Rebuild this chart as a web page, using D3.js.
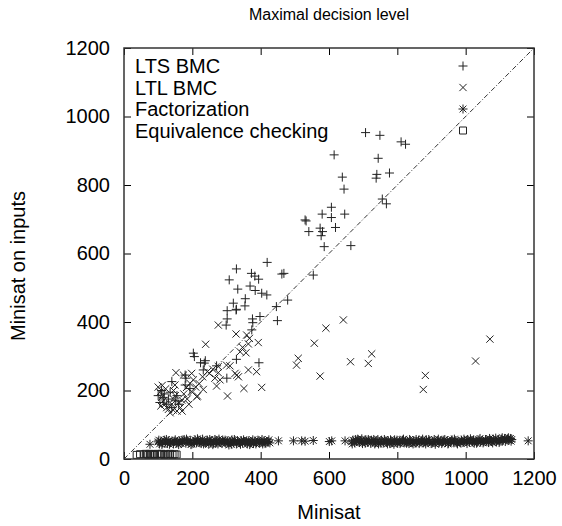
<!doctype html>
<html>
  <head>
    <script src="https://cdnjs.cloudflare.com/ajax/libs/d3/7.8.5/d3.min.js"></script>
    <style>
      body {
        margin: 0;
        background: #fff;
        font-family: "Liberation Sans", Arial, Helvetica, sans-serif;
      }
      .tick text {
        font-size: 20px;
        fill: #000;
      }
      .tick line {
        stroke: #000;
      }
      .mark {
        fill: none;
        stroke: #222;
        stroke-width: 1;
      }
    </style>
  </head>
  <body>
    <svg width="562" height="526"></svg>
    <script>
      // series: [minisat, minisat on inputs]
      var ltsBmc = [
        [707,953],[749,945],[811,926],[824,919],[615,888],[744,878],[639,823],[740,831],[777,835],[738,820],
        [644,788],[756,759],[768,745],[607,735],[580,715],[607,705],[646,715],[530,698],[533,695],[541,664],
        [574,674],[581,664],[577,652],[619,676],[586,620],[664,623],[554,537],[419,574],[329,555],[308,523],
        [333,496],[373,542],[383,534],[394,525],[369,505],[384,492],[403,484],[418,479],[462,540],[468,542],
        [479,464],[355,468],[320,455],[354,447],[329,437],[446,445],[328,435],[302,433],[302,409],[376,409],
        [377,398],[398,416],[449,404],[299,391],[374,377],[203,309],[206,299],[224,281],[238,287],[329,291],
        [395,281],[271,272],[179,245],[181,236],[232,260],[301,236],[140,226],[179,216],[193,206],[235,280],
        [110,200],[118,190],[130,175],[150,170],[105,165],[125,160],[140,150],[160,160],[115,180],[100,185],
        [135,195],[155,185]
      ];
      var ltlBmc = [
        [276,391],[328,365],[359,362],[367,352],[364,336],[393,340],[347,326],[340,313],[357,310],[239,335],
        [310,272],[330,245],[335,240],[364,260],[388,255],[351,206],[403,209],[303,184],[213,182],[232,203],
        [276,270],[276,252],[266,236],[281,231],[271,213],[152,252],[174,245],[198,250],[203,231],[193,221],
        [149,216],[510,294],[505,274],[557,338],[574,242],[591,382],[642,406],[663,284],[715,279],[725,307],
        [882,244],[876,203],[1029,286],[1071,350],[244,255],[300,274],[325,250],[183,209],[215,184],
        [100,210],[105,195],[110,180],[115,170],[120,160],[125,150],[130,145],[140,160],[145,175],[150,185],
        [160,165],[165,150],[170,140],[155,140],[135,135],[112,215],[122,205],[108,155],[145,200],[169,172],
        [144,143],[175,190],[185,175],[190,160],[200,195],[210,210],[220,220],[230,240],[250,250],[260,262]
      ];
      var factorization = [
        [76,43],[100,50],[104,44],[108,52],[113,47],[118,55],[122,49],[127,45],[131,53],[136,48],[141,51],
        [145,44],[150,56],[154,47],[158,50],[163,53],[167,45],[172,49],[176,57],[181,46],[185,52],[190,48],
        [194,54],[199,44],[203,50],[208,56],[212,47],[217,53],[221,49],[226,45],[230,58],[235,51],[239,47],
        [244,55],[248,43],[253,50],[257,53],[262,46],[266,57],[271,49],[275,44],[280,52],[284,48],[289,55],
        [293,50],[298,46],[302,53],[307,41],[311,49],[316,56],[320,47],[325,52],[329,44],[334,50],[338,48],
        [343,54],[347,46],[352,51],[356,49],[361,44],[365,53],[370,47],[374,50],[379,45],[383,52],[388,48],
        [392,55],[397,46],[401,50],[406,44],[410,53],[415,48],[419,51],[424,56],[427,47],[452,53],[496,53],
        [520,53],[530,52],[554,54],[601,51],[608,53],[647,53],[666,50],[670,55],[675,47],[680,52],[684,58],
        [689,48],[694,53],[698,45],[703,51],[708,56],[712,49],[717,53],[722,46],[726,51],[731,57],[736,48],
        [740,52],[745,44],[750,50],[754,55],[759,47],[764,52],[768,49],[773,54],[778,45],[782,51],[787,48],
        [792,56],[796,50],[801,46],[806,53],[810,49],[815,55],[820,47],[824,52],[829,50],[834,45],[838,54],
        [843,48],[848,52],[852,46],[857,51],[862,55],[866,49],[871,53],[876,47],[880,50],[885,56],[890,48],
        [894,52],[899,45],[904,51],[908,57],[913,49],[918,53],[922,47],[927,52],[932,50],[936,55],[941,48],
        [946,53],[950,46],[955,51],[960,56],[964,49],[969,53],[974,47],[978,52],[983,50],[988,55],[992,48],
        [997,53],[1002,51],[1006,57],[1011,49],[1016,54],[1020,50],[1025,46],[1030,53],[1034,51],[1039,56],
        [1044,49],[1048,54],[1053,50],[1058,57],[1062,52],[1067,48],[1072,55],[1076,51],[1081,58],[1086,53],
        [1090,50],[1095,56],[1100,52],[1104,58],[1109,54],[1114,60],[1118,56],[1122,59],[1127,55],[1131,60],
        [1135,57],[1183,53],
        // second pass over the dense band
        [102,55],[111,42],[124,57],[133,43],[147,52],[160,42],[170,55],[183,58],[196,42],[206,48],[215,59],
        [224,52],[233,44],[242,50],[251,57],[260,42],[269,53],[278,58],[287,45],[296,55],[305,48],[314,43],
        [323,57],[332,53],[341,43],[350,56],[359,52],[368,42],[377,56],[386,44],[395,51],[404,57],[413,45],
        [422,51],[668,44],[678,57],[687,52],[696,59],[706,46],[715,57],[724,55],[734,44],[743,57],[752,46],
        [762,57],[771,44],[780,56],[790,43],[799,55],[808,45],[818,58],[827,46],[836,57],[846,44],[855,57],
        [864,45],[874,58],[883,44],[892,57],[902,48],[911,43],[920,58],[930,45],[939,57],[948,44],[958,52],
        [967,58],[976,44],[986,47],[995,58],[1004,45],[1014,59],[1023,55],[1032,46],[1042,60],[1051,47],
        [1060,53],[1070,60],[1079,47],[1088,61],[1098,48],[1107,62],[1116,51],[1125,62],[1133,52]
      ];
      var equivalence = [
        [37,12],[47,14],[59,13],[64,15],[71,12],[76,15],[81,13],[88,14],[91,12],[98,15],
        [105,13],[110,15],[118,12],[122,14],[129,13],[135,15],[142,12],[148,14],[154,13]
      ];
      var seriesNames = ["LTS BMC", "LTL BMC", "Factorization", "Equivalence checking"];
      var tickValues = [0, 200, 400, 600, 800, 1000, 1200];

      var margin = {left: 124, right: 28, top: 48, bottom: 67};
      var width = 562 - margin.left - margin.right,
          height = 526 - margin.top - margin.bottom;

      var svg = d3.select("svg");
      var g = svg.append("g").attr("transform", "translate(" + margin.left + "," + margin.top + ")");

      var x = d3.scaleLinear().domain([0, 1200]).range([0, width]);
      var y = d3.scaleLinear().domain([0, 1200]).range([height, 0]);

      // marker shapes, gnuplot style
      var shapes = {
        plus: "M-4.5,0H4.5M0,-4.5V4.5",
        times: "M-3.6,-3.6L3.6,3.6M-3.6,3.6L3.6,-3.6",
        star: "M-4.5,0H4.5M0,-4.5V4.5M-3.4,-3.4L3.4,3.4M-3.4,3.4L3.4,-3.4",
        square: "M-3.5,-3.5H3.5V3.5H-3.5Z"
      };
      var fmt = d3.format("d");

      // ticks on all four sides, pointing in
      g.append("g").attr("transform", "translate(0," + height + ")")
        .call(d3.axisBottom(x).tickValues(tickValues).tickFormat(fmt).tickSize(-7).tickPadding(12));
      g.append("g")
        .call(d3.axisLeft(y).tickValues(tickValues).tickFormat(fmt).tickSize(-7).tickPadding(14));
      g.append("g")
        .call(d3.axisTop(x).tickValues(tickValues).tickSize(-7).tickFormat(""));
      g.append("g").attr("transform", "translate(" + width + ",0)")
        .call(d3.axisRight(y).tickValues(tickValues).tickSize(-7).tickFormat(""));
      g.selectAll(".domain").remove();

      // y = x reference line
      g.append("line")
        .attr("x1", x(0)).attr("y1", y(0))
        .attr("x2", x(1200)).attr("y2", y(1200))
        .attr("stroke", "#000")
        .attr("stroke-width", 0.8)
        .attr("stroke-dasharray", "5,2,1,2");

      function plot(data, shape) {
        g.append("g").selectAll("path")
          .data(data)
          .enter()
          .append("path")
            .attr("class", "mark")
            .attr("d", shapes[shape])
            .attr("transform", d => "translate(" + x(d[0]) + "," + y(d[1]) + ")");
      }
      plot(equivalence, "square");
      plot(factorization, "star");
      plot(ltlBmc, "times");
      plot(ltsBmc, "plus");

      // frame
      g.append("rect")
        .attr("width", width).attr("height", height)
        .attr("fill", "none").attr("stroke", "#333").attr("stroke-width", 1.5);

      // legend
      var legendShapes = ["plus", "times", "star", "square"];
      var legend = g.selectAll(".legend")
        .data(seriesNames)
        .enter()
        .append("g")
          .attr("class", "legend")
          .attr("transform", (d, i) => "translate(0," + (25 + i * 21.5) + ")");
      legend.append("text")
        .attr("x", 11)
        .attr("y", 0)
        .style("font-size", "20px")
        .text(d => d);
      legend.append("path")
        .attr("class", "mark")
        .attr("d", (d, i) => shapes[legendShapes[i]])
        .attr("transform", "translate(339,-7)");

      // titles
      svg.append("text")
        .attr("x", margin.left + width / 2)
        .attr("y", 20)
        .attr("text-anchor", "middle")
        .style("font-size", "16px")
        .text("Maximal decision level");
      svg.append("text")
        .attr("x", margin.left + width / 2)
        .attr("y", 519)
        .attr("text-anchor", "middle")
        .style("font-size", "20px")
        .text("Minisat");
      svg.append("text")
        .attr("transform", "translate(25,266) rotate(-90)")
        .attr("text-anchor", "middle")
        .style("font-size", "20px")
        .text("Minisat on inputs");
    </script>
  </body>
</html>
